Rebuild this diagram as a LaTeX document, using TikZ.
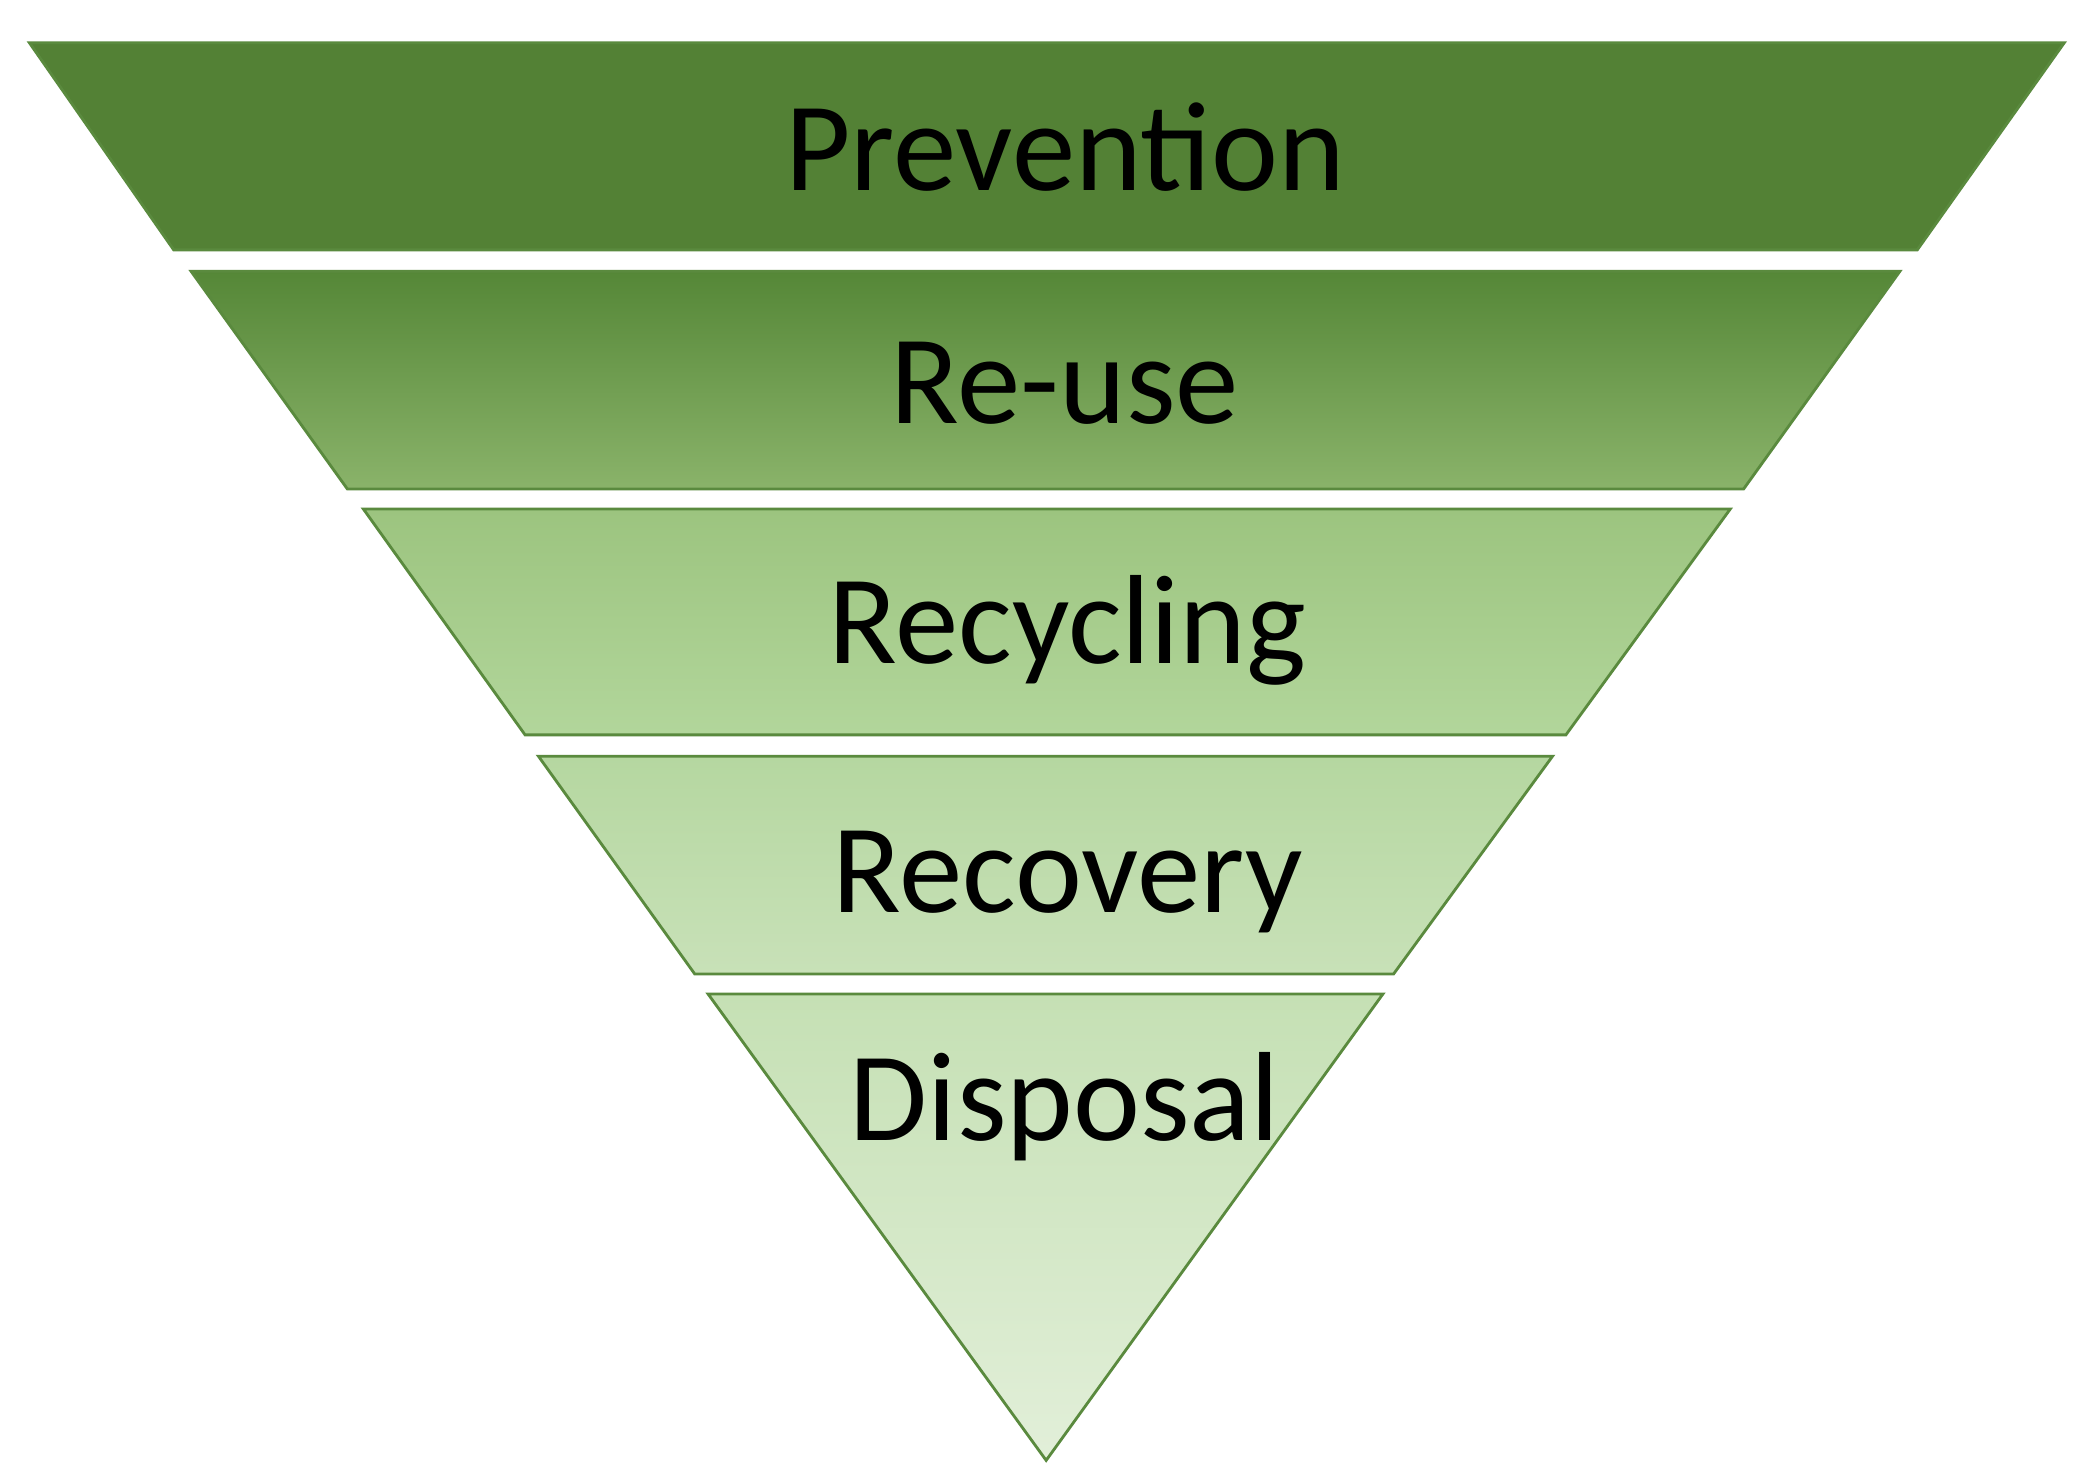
\documentclass[tikz,border=0pt]{standalone}
\usepackage{fontspec}
\setmainfont{Carlito}
\definecolor{edge}{HTML}{5A8A3E}
\definecolor{cA}{HTML}{538135}
\definecolor{cB}{HTML}{558737}
\definecolor{cC}{HTML}{8AB36A}
\definecolor{cD}{HTML}{9CC47F}
\definecolor{cE}{HTML}{B2D69B}
\definecolor{cF}{HTML}{B5D7A0}
\definecolor{cG}{HTML}{C8E1B8}
\definecolor{cH}{HTML}{C5E0B4}
\definecolor{cI}{HTML}{E2EFD9}
\begin{document}
\begin{tikzpicture}[x=0.01cm,y=-0.01cm,
  band/.style={draw=edge,line width=0.6pt},
  lbl/.style={font=\fontsize{27}{30}\selectfont,text=black}]
\useasboundingbox (0,0) rectangle (1568,1108);
\fill[white] (0,0) rectangle (1568,1108);
\draw[band,top color=cA,bottom color=cA] (22,32) -- (1545,32) -- (1435,187) -- (130,187) -- cycle;
\draw[band,top color=cB,bottom color=cC] (143,203) -- (1422,203) -- (1305,366) -- (260,366) -- cycle;
\draw[band,top color=cD,bottom color=cE] (272,381) -- (1295,381) -- (1172,550) -- (393,550) -- cycle;
\draw[band,top color=cF,bottom color=cG] (403,566) -- (1162,566) -- (1043,729) -- (520,729) -- cycle;
\draw[band,top color=cH,bottom color=cI] (530,744) -- (1035,744) -- (783,1093) -- cycle;
\node[lbl] (p) at (797,110) {Prevention};
\node[lbl] (r1) at (797,287) {Re-use};
\node[lbl] (r2) at (799,472) {Recycling};
\node[lbl] (r3) at (799,660) {Recovery};
\node[lbl] (d) at (797,828) {Disposal};
\end{tikzpicture}
\end{document}
